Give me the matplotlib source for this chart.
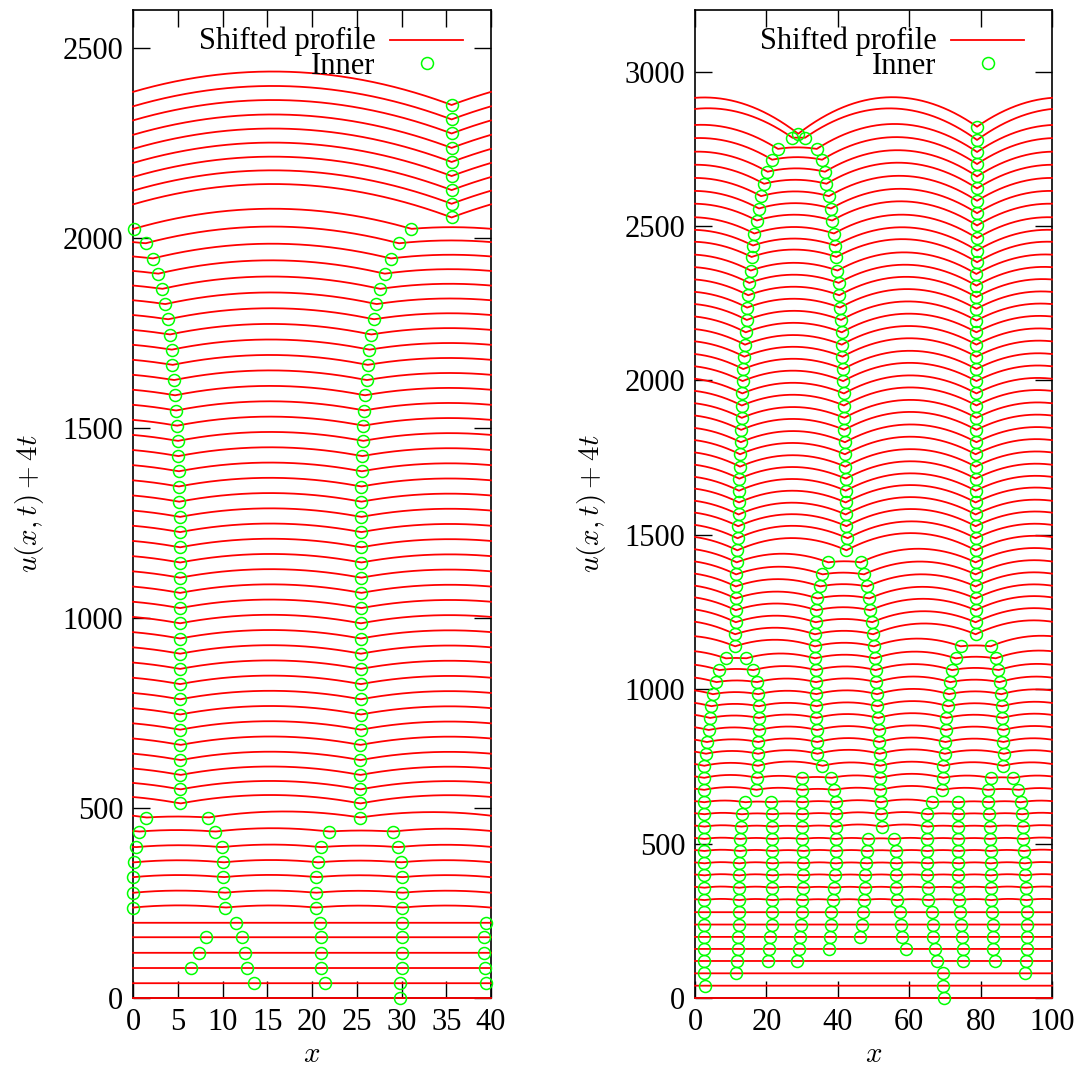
import numpy as np
import matplotlib
matplotlib.use("Agg")
import matplotlib.pyplot as plt

plt.rcParams["font.family"] = ["Liberation Serif", "DejaVu Serif"]
plt.rcParams["mathtext.fontset"] = "cm"

# -----------------------------------------------------------
#   Run 1: period 40, one profile every 4t = 40
# -----------------------------------------------------------

left_period = 40.0
left_shift = [0, 40, 80, 120, 160, 200, 240, 280, 320, 360,
              400, 440, 480, 520, 560, 600, 640, 680, 720, 760,
              800, 840, 880, 920, 960, 1000, 1040, 1080, 1120, 1160,
              1200, 1240, 1280, 1320, 1360, 1400, 1440, 1480, 1520, 1560,
              1600, 1640, 1680, 1720, 1760, 1800, 1840, 1880, 1920, 1960,
              2000, 2040, 2080, 2120, 2160, 2200, 2240, 2280, 2320, 2360,
              2400]
# u at the valleys of each profile
left_dip = [0, -1, -1, -1, 0, -2, -2, -3, -2, -3,
            -3, -2, -5, -8, -11, -13, -14, -14, -14, -14,
            -14, -14, -14, -14, -14, -14, -14, -14, -14, -14,
            -14, -14, -14, -14, -14, -14, -14, -14, -14, -14,
            -14, -14, -14, -14, -14, -14, -14, -14, -14, -14,
            -14, -16, -26, -30, -34, -37, -40, -43, -45, -48,
            -50]
# inner points: (first profile, x on each following profile)
left_tracks = [
    (1, [39.4, 39.3, 39.2, 39.2, 39.45, 0.0, 0.05, 0.0, 0.1, 0.3, 0.65, 1.5]),
    (2, [6.5, 7.35, 8.2]),
    (1, [13.5, 12.7, 12.5, 12.2]),
    (5, [11.5, 10.3, 10.2, 10.1, 10.1, 9.9, 9.2, 8.4]),
    (1, [21.5, 21.0, 21.0, 21.0, 20.9, 20.4, 20.4, 20.5, 20.7, 21.0, 21.9]),
    (0, [29.85, 29.85, 30.0, 30.0, 30.0, 30.1, 30.1, 30.1, 30.1, 29.9, 29.6, 29.0]),
    (12, [25.4, 25.4, 25.4, 25.4, 25.4, 25.4, 25.45, 25.45, 25.45, 25.45,
          25.45, 25.45, 25.45, 25.45, 25.5, 25.5, 25.5, 25.5, 25.5, 25.5,
          25.5, 25.5, 25.5, 25.55, 25.6, 25.7, 25.75, 25.8, 25.9, 26.1,
          26.2, 26.4, 26.6, 26.9, 27.2, 27.6, 28.1, 28.8, 29.7, 31.1]),
    (13, [5.3, 5.3, 5.3, 5.3, 5.3, 5.25, 5.25, 5.25, 5.25, 5.25,
          5.25, 5.25, 5.25, 5.25, 5.25, 5.25, 5.25, 5.25, 5.25, 5.25,
          5.15, 5.1, 5.1, 5.05, 5.0, 4.9, 4.8, 4.7, 4.55, 4.4,
          4.3, 4.1, 3.9, 3.6, 3.25, 2.8, 2.2, 1.4, 0.07]),
    (52, [35.6, 35.6, 35.6, 35.6, 35.6, 35.6, 35.6, 35.6, 35.6]),
]
left_curv = 0.22
left_first_curved = 6

# -----------------------------------------------------------
#   Run 2: period 100
# -----------------------------------------------------------

right_period = 100.0
right_shift = [0, 40, 80, 120, 160, 200, 240, 280, 320, 360,
               400, 440, 480, 520, 560, 600, 640, 680, 720, 760,
               800, 840, 880, 920, 960, 1000, 1040, 1080, 1120, 1160,
               1200, 1240, 1280, 1320, 1360, 1400, 1440, 1480, 1520, 1560,
               1600, 1640, 1680, 1720, 1760, 1800, 1840, 1880, 1920, 1960,
               2000, 2040, 2080, 2120, 2160, 2200, 2240, 2280, 2320, 2360,
               2400, 2440, 2480, 2520, 2560, 2600, 2640, 2680, 2720, 2760,
               2800, 2840, 2880]
right_dip = [0, 0, 0, 0, -1, -2, -2, -2, -3, -3,
             -3, -4, -4, -5, -5, -5, -6, -6, -7, -8,
             -9, -11, -12, -13, -15, -16, -17, -18, -20, -21,
             -22, -23, -24, -26, -27, -28, -29, -30, -31, -32,
             -34, -35, -37, -38, -39, -39, -40, -40, -41, -41,
             -42, -42, -43, -43, -44, -44, -46, -48, -50, -53,
             -55, -57, -59, -59, -58, -58, -58, -58, -59, -59,
             -60, -61, -58]
right_tracks = [
    (1, [2.7, 2.5, 2.5, 2.5, 2.5, 2.5, 2.5, 2.5, 2.5, 2.5,
         2.5, 2.5, 2.5, 2.5, 2.5, 2.5, 2.5, 2.5, 2.5, 3.0,
         3.3, 3.8, 4.2, 4.5, 5.0, 5.9, 6.8, 8.6]),
    (2, [11.5, 11.65, 11.9, 12.0, 12.2, 12.2, 12.3, 12.3, 12.3, 12.3,
         12.5, 12.6, 12.8, 13.1, 14.0]),
    (3, [20.5, 20.7, 21.0, 21.5, 21.6, 21.7, 21.7, 21.7, 21.7, 21.7,
         21.7, 21.7, 21.6, 21.3]),
    (17, [17.1, 17.4, 17.6, 17.7, 17.7, 17.9, 17.9, 17.9, 17.7, 17.3,
          16.3, 14.3]),
    (29, [11.2, 11.2, 11.4, 11.4, 11.4, 11.4, 11.5, 11.65, 11.85, 11.9,
          12.1, 12.2, 12.3, 12.3, 12.4, 12.6, 12.6, 12.8, 12.9, 13.1,
          13.1, 13.2, 13.3, 13.5, 13.8, 14.0, 14.2]),
    (56, [14.5, 14.6, 14.9, 15.2, 15.6, 15.85, 16.2, 16.6, 17.3, 17.9,
          18.5, 19.3, 20.3, 21.6, 23.2, 27.3, 28.9],
         [2, 4, 6, 9, 11, 17, 16, 15, 16, 15, 15, 15, 15, 14, 10, 7, -23]),
    (3, [28.7, 29.1, 29.4, 29.7, 29.9, 30.1, 30.3, 30.3, 30.3, 30.3,
         30.1, 30.1, 30.0, 30.0, 29.9, 29.9]),
    (4, [37.6, 37.8, 38.0, 38.2, 38.7, 38.9, 39.2, 39.4, 39.4, 39.4,
         39.4, 39.6, 39.4, 38.9, 38.2]),
    (19, [35.7, 34.3, 34.2, 34.2, 34.0, 34.0, 33.9, 33.9, 33.8, 33.6,
          33.6, 33.6, 33.8, 34.0, 34.3, 35.0, 35.7, 37.3]),
    (5, [46.3, 46.8, 47.1, 47.3, 47.6, 47.7, 48.0, 48.2, 48.5]),
    (4, [59.0, 58.1, 57.8, 57.3, 56.6, 56.4, 56.4, 56.4, 56.2, 55.7]),
    (14, [52.3, 52.0, 52.0, 51.9, 51.9, 51.8, 51.7, 51.6, 51.5, 51.3,
          51.1, 51.0, 50.8, 50.6, 50.3, 50.1, 49.9, 49.6, 49.1, 48.8,
          48.2, 47.3, 46.4]),
    (37, [42.4, 42.7, 42.4, 42.2, 42.2, 42.2, 42.2, 42.1, 42.0, 42.0,
          41.8, 41.8, 41.7, 41.7, 41.5, 41.5, 41.3, 41.1, 41.1]),
    (56, [40.9, 40.6, 40.4, 40.2, 39.9, 39.6, 39.3, 38.9, 38.4, 38.1,
          37.5, 36.8, 36.4, 35.6, 34.1, 30.8],
         [2, 4, 6, 9, 11, 17, 16, 15, 16, 15, 15, 15, 15, 14, 10, 7]),
    (0, [69.7, 69.6, 69.6, 67.9, 67.2, 66.7, 66.7, 66.5, 65.3, 65.3,
         65.1, 65.1, 65.1, 65.1, 65.1, 65.1, 66.5]),
    (3, [75.1, 75.1, 74.9, 74.6, 74.3, 73.9, 73.8, 73.8, 73.8, 73.8,
         73.8, 73.8, 73.8, 73.7]),
    (17, [69.3, 69.5, 69.6, 70.0, 70.1, 70.2, 70.4, 70.9, 71.1, 71.5,
          72.0, 73.0, 74.4]),
    (3, [83.9, 83.6, 83.6, 83.4, 83.2, 83.0, 82.8, 82.8, 82.8, 82.8,
         82.5, 82.5, 82.3, 82.2, 82.0, 82.8]),
    (2, [92.3, 92.8, 92.96, 92.96, 93.05, 93.05, 92.8, 92.6, 92.5, 92.3,
         92.1, 91.8, 91.8, 91.6, 91.2, 90.6, 89.2]),
    (19, [86.2, 86.5, 86.3, 86.3, 86.1, 86.0, 85.8, 85.3, 85.0, 84.2,
          82.8]),
    (30, [78.6, 78.6, 78.6, 78.6, 78.6, 78.6, 78.6, 78.6, 78.6, 78.6,
          78.6, 78.6, 78.6, 78.6, 78.6, 78.6, 78.8, 78.8, 78.8, 78.8,
          78.8, 78.8, 78.8, 78.8, 78.8, 78.8, 78.8, 78.8, 78.8, 78.8,
          78.8, 79.0, 79.0, 79.0, 79.0, 79.0, 79.0, 79.0, 79.0, 79.0,
          79.0, 79.0, 79.0]),
]
right_curv = 0.17
right_first_curved = 8


def inner_points(tracks, shift, dip):
    """Group the inner points by profile: rows[k] = [(x, y), ...]."""
    rows = [[] for _ in shift]
    for tr in tracks:
        k0, xs = tr[0], tr[1]
        lift = tr[2] if len(tr) > 2 else [0] * len(xs)
        for i, x in enumerate(xs):
            k = k0 + i
            rows[k].append((x, shift[k] + dip[k] + lift[i]))
    return rows


def profile(pts, period, curv, grid):
    # arcs between neighbouring valleys, wrapped around the period
    pts = sorted(pts)
    vx = [p[0] for p in pts]
    vy = [p[1] for p in pts]
    ex = [vx[-1] - period] + vx + [vx[0] + period]
    ey = [vy[-1]] + vy + [vy[0]]
    y = np.zeros_like(grid)
    for a, b, ya, yb in zip(ex[:-1], ex[1:], ey[:-1], ey[1:]):
        if b - a <= 0:
            continue
        m = (grid >= a) & (grid <= b)
        s = grid[m]
        y[m] = ya + (yb - ya) * (s - a) / (b - a) + curv * (s - a) * (b - s)
    return y


def draw_run(ax, period, shift, dip, tracks, curv, first_curved):
    rows = inner_points(tracks, shift, dip)
    base = np.linspace(0, period, 1201)
    for k, pts in enumerate(rows):
        vx = [p[0] for p in pts if 0 <= p[0] <= period]
        grid = np.unique(np.concatenate([base, vx]))
        c = curv if k >= first_curved else 0.0
        y = profile(pts, period, c, grid)
        ax.plot(grid, y, color="#ff0000", lw=1.3, zorder=3, clip_on=False)
    cx = [p[0] for pts in rows for p in pts]
    cy = [p[1] for pts in rows for p in pts]
    ax.plot(cx, cy, "o", mfc="none", mec="#00ff00", ms=8.6, mew=1.1,
            zorder=4, clip_on=False)


def key(ax):
    # gnuplot style key: labels on the left, samples on the right
    ax.text(0.677, 0.9832, "Shifted profile\nInner", transform=ax.transAxes,
            ha="right", va="top", multialignment="right", fontsize=22,
            linespacing=0.8)
    ax.plot([0.718, 0.922], [0.9696, 0.9696], color="#ff0000", lw=1.3,
            transform=ax.transAxes)
    ax.plot([0.82], [0.9464], "o", mfc="none", mec="#00ff00", ms=8.6,
            mew=1.1, transform=ax.transAxes)


fig = plt.figure(figsize=(10.87, 10.72), dpi=100)
ax1 = fig.add_axes([0.1224, 0.069, 0.3293, 0.9217])
ax2 = fig.add_axes([0.6394, 0.069, 0.3284, 0.9217])

draw_run(ax1, left_period, left_shift, left_dip, left_tracks,
         left_curv, left_first_curved)
draw_run(ax2, right_period, right_shift, right_dip, right_tracks,
         right_curv, right_first_curved)

ax1.set_xlim(0, 40)
ax1.set_ylim(0, 2600)
ax1.set_xticks(range(0, 41, 5))
ax1.set_yticks(range(0, 2501, 500))
ax2.set_xlim(0, 100)
ax2.set_ylim(0, 3200)
ax2.set_xticks(range(0, 101, 20))
ax2.set_yticks(range(0, 3001, 500))

for ax in (ax1, ax2):
    ax.tick_params(direction="in", top=True, right=True, length=12,
                   width=1.0, labelsize=22, pad=7)
    for sp in ax.spines.values():
        sp.set_linewidth(1.2)
    ax.set_xlabel(r"$x$", fontsize=21, labelpad=4)
    ax.set_ylabel(r"$u(x,t) + 4t$", fontsize=21, labelpad=12)
    key(ax)

fig.savefig("out.png", dpi=100)
